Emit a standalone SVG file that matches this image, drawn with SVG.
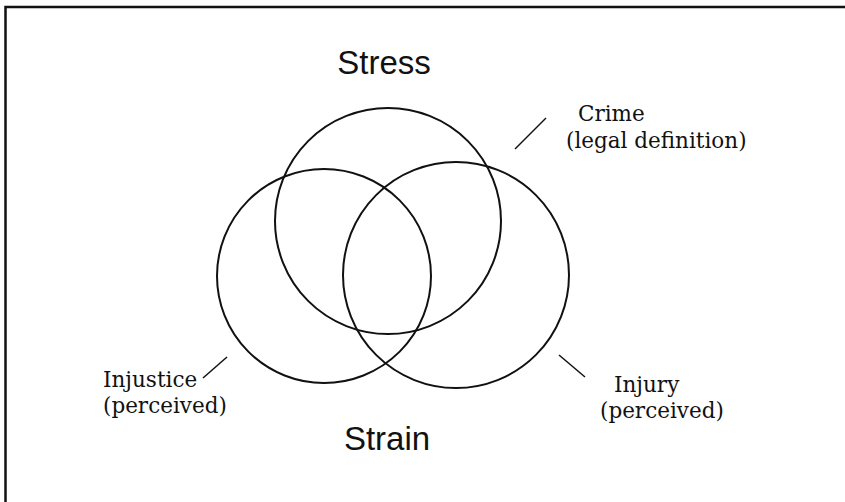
<svg xmlns="http://www.w3.org/2000/svg" width="845" height="502" viewBox="0 0 845 502">
  <style>
    .ring { fill: none; stroke: #111; stroke-width: 2; }
    .tick { stroke: #111; stroke-width: 1.5; }
    .frame { fill: none; stroke: #111; stroke-width: 2.5; }
    .title { font-family: "Liberation Sans", Arial, sans-serif; font-size: 33px; fill: #111; text-anchor: middle; }
    .note { font-family: "DejaVu Serif", "Liberation Serif", serif; font-size: 21.5px; fill: #111; }
  </style>
  <rect width="845" height="502" fill="#fff"/>
  <!-- outer frame: top and left edges only -->
  <path class="frame" d="M5.5 510 V7 H850"/>

  <g id="stress-circle"><circle class="ring" cx="388" cy="221" r="113"/></g>
  <g id="injustice-circle"><circle class="ring" cx="324" cy="276" r="107"/></g>
  <g id="injury-circle"><circle class="ring" cx="456" cy="275" r="113"/></g>

  <g id="stress-label"><text class="title" x="384" y="74">Stress</text></g>
  <g id="strain-label"><text class="title" x="387" y="450">Strain</text></g>

  <g id="crime-label">
    <text class="note" x="578" y="121">Crime</text>
    <text class="note" x="566" y="148">(legal definition)</text>
  </g>
  <g id="injustice-label">
    <text class="note" x="103" y="387">Injustice</text>
    <text class="note" x="103" y="413">(perceived)</text>
  </g>
  <g id="injury-label">
    <text class="note" x="614" y="392">Injury</text>
    <text class="note" x="600" y="418">(perceived)</text>
  </g>

  <g id="connectors">
    <line class="tick" x1="515" y1="149" x2="546" y2="118"/>
    <line class="tick" x1="203" y1="378" x2="227" y2="357"/>
    <line class="tick" x1="559" y1="355" x2="585" y2="377"/>
  </g>
</svg>
